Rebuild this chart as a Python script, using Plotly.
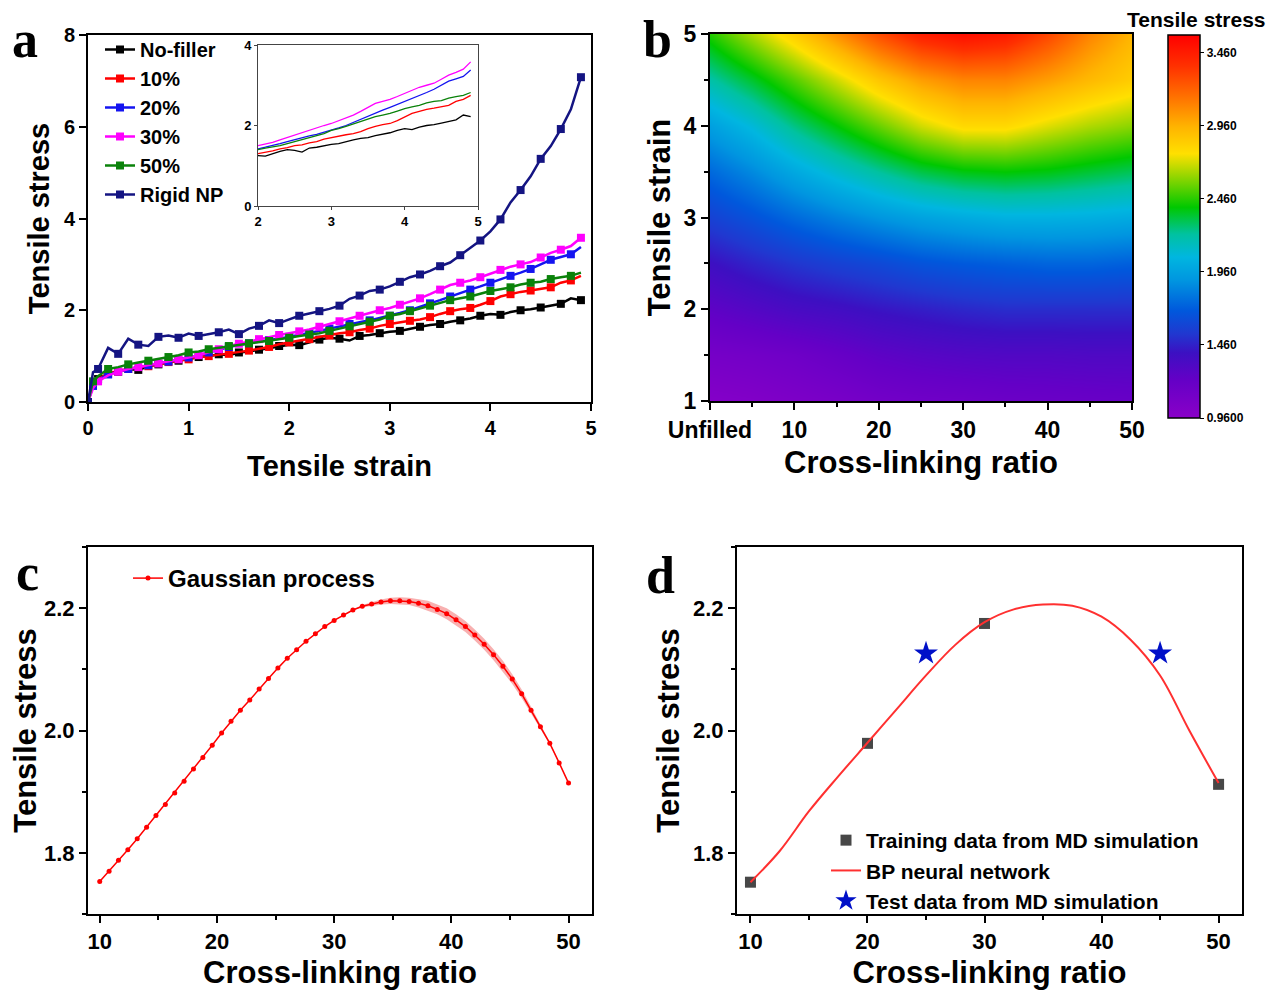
import plotly.graph_objects as go

# ---------------- data ----------------
# panel a: stress-strain curves
strain = [0, 0.05, 0.1, 0.2, 0.3, 0.4, 0.5, 0.6, 0.7, 0.8, 0.9, 1.0, 1.1, 1.2, 1.3, 1.4, 1.5,
          1.6, 1.7, 1.8, 1.9, 2.0, 2.1, 2.2, 2.3, 2.4, 2.5, 2.6, 2.7, 2.8, 2.9, 3.0, 3.1, 3.2,
          3.3, 3.4, 3.5, 3.6, 3.7, 3.8, 3.9, 4.0, 4.1, 4.2, 4.3, 4.4, 4.5, 4.6, 4.7, 4.8, 4.9]
stress_nofiller = [0, 0.38, 0.5, 0.62, 0.66, 0.72, 0.7, 0.78, 0.82, 0.86, 0.9, 0.94, 0.98, 1.0, 1.04, 1.02,
                   1.08, 1.1, 1.14, 1.18, 1.22, 1.25, 1.24, 1.3, 1.36, 1.4, 1.38, 1.34, 1.44, 1.46, 1.5,
                   1.53, 1.55, 1.6, 1.64, 1.68, 1.7, 1.75, 1.78, 1.82, 1.88, 1.92, 1.9, 1.96, 2.0, 2.02,
                   2.06, 2.1, 2.14, 2.26, 2.22]
stress_10 = [0, 0.4, 0.5, 0.62, 0.68, 0.72, 0.76, 0.78, 0.82, 0.87, 0.9, 0.93, 0.98, 1.0, 1.03, 1.05,
             1.08, 1.12, 1.16, 1.2, 1.26, 1.3, 1.33, 1.37, 1.42, 1.45, 1.5, 1.52, 1.57, 1.6, 1.66, 1.7,
             1.74, 1.77, 1.8, 1.85, 1.92, 1.98, 2.02, 2.05, 2.12, 2.2, 2.3, 2.35, 2.4, 2.43, 2.47, 2.5,
             2.6, 2.65, 2.75]
stress_20 = [0, 0.35, 0.48, 0.6, 0.66, 0.72, 0.76, 0.8, 0.84, 0.88, 0.93, 0.97, 1.02, 1.08, 1.14, 1.2,
             1.24, 1.28, 1.32, 1.35, 1.38, 1.42, 1.46, 1.5, 1.55, 1.6, 1.65, 1.7, 1.74, 1.78, 1.83, 1.88,
             1.94, 2.0, 2.08, 2.15, 2.22, 2.3, 2.38, 2.45, 2.52, 2.6, 2.68, 2.75, 2.82, 2.9, 3.0, 3.1,
             3.16, 3.22, 3.38]
stress_30 = [0, 0.3, 0.45, 0.58, 0.66, 0.72, 0.76, 0.8, 0.84, 0.88, 0.93, 0.97, 1.02, 1.08, 1.15, 1.22,
             1.27, 1.32, 1.37, 1.42, 1.46, 1.5, 1.54, 1.58, 1.64, 1.7, 1.76, 1.82, 1.88, 1.95, 2.0, 2.05,
             2.12, 2.18, 2.26, 2.35, 2.45, 2.55, 2.6, 2.65, 2.72, 2.8, 2.88, 2.95, 3.0, 3.05, 3.15, 3.25,
             3.32, 3.4, 3.58]
stress_50 = [0, 0.45, 0.56, 0.72, 0.76, 0.82, 0.86, 0.9, 0.94, 0.98, 1.02, 1.08, 1.1, 1.15, 1.18, 1.22,
             1.25, 1.28, 1.3, 1.33, 1.37, 1.4, 1.44, 1.47, 1.5, 1.55, 1.6, 1.65, 1.7, 1.75, 1.8, 1.88,
             1.92, 1.98, 2.04, 2.1, 2.16, 2.22, 2.26, 2.3, 2.36, 2.42, 2.46, 2.5, 2.56, 2.6, 2.62, 2.68,
             2.72, 2.75, 2.82]
stress_rigid = [0, 0.65, 0.72, 1.18, 1.05, 1.38, 1.25, 1.22, 1.42, 1.45, 1.4, 1.49, 1.44, 1.48, 1.52, 1.58,
                1.48, 1.6, 1.66, 1.78, 1.72, 1.8, 1.88, 1.93, 1.98, 2.03, 2.1, 2.25, 2.32, 2.42, 2.45, 2.52,
                2.62, 2.72, 2.78, 2.86, 2.96, 3.04, 3.2, 3.36, 3.52, 3.72, 3.98, 4.35, 4.62, 4.92, 5.3, 5.58,
                5.95, 6.38, 7.08]
series_names = ["No-filler", "10%", "20%", "30%", "50%", "Rigid NP"]
series_values = [stress_nofiller, stress_10, stress_20, stress_30, stress_50, stress_rigid]
series_colors = ["#000000", "#FF0000", "#1414F0", "#FF00FF", "#0A820A", "#141482"]

# panel b: stress map (cross-linking ratio x tensile strain)
cl_map = [0, 5, 10, 15, 20, 25, 30, 35, 40, 45, 50]
cl_map_labels = ["Unfilled", "10", "20", "30", "40", "50"]
strain_map = [1, 1.5, 2, 2.5, 3, 3.5, 4, 4.5, 5]
stress_map = [
    [1.00, 1.02, 1.05, 1.08, 1.12, 1.14, 1.15, 1.17, 1.18, 1.19, 1.20],
    [1.10, 1.12, 1.15, 1.20, 1.25, 1.28, 1.30, 1.31, 1.31, 1.32, 1.32],
    [1.25, 1.30, 1.35, 1.38, 1.42, 1.45, 1.48, 1.50, 1.50, 1.50, 1.50],
    [1.40, 1.47, 1.53, 1.58, 1.62, 1.67, 1.70, 1.72, 1.74, 1.74, 1.72],
    [1.58, 1.66, 1.75, 1.83, 1.90, 1.96, 2.00, 2.03, 2.03, 2.02, 2.00],
    [1.75, 1.86, 1.99, 2.11, 2.22, 2.32, 2.38, 2.40, 2.38, 2.34, 2.30],
    [1.95, 2.08, 2.25, 2.40, 2.55, 2.70, 2.80, 2.80, 2.72, 2.65, 2.60],
    [2.20, 2.35, 2.52, 2.70, 2.88, 3.02, 3.10, 3.10, 3.02, 2.93, 2.85],
    [2.45, 2.65, 2.85, 3.07, 3.28, 3.45, 3.52, 3.47, 3.30, 3.10, 2.95],
]
cbar_ticks = [0.96, 1.46, 1.96, 2.46, 2.96, 3.46]
cbar_labels = ["0.9600", "1.460", "1.960", "2.460", "2.960", "3.460"]

# panel c: Gaussian process prediction
cl_gp = [10, 10.8, 11.6, 12.4, 13.2, 14, 14.8, 15.6, 16.4, 17.2, 18, 18.8, 19.6, 20.4, 21.2, 22, 22.8,
         23.6, 24.4, 25.2, 26, 26.8, 27.6, 28.4, 29.2, 30, 30.8, 31.6, 32.4, 33.2, 34, 34.8, 35.6, 36.4,
         37.2, 38, 38.8, 39.6, 40.4, 41.2, 42, 42.8, 43.6, 44.4, 45.2, 46, 46.8, 47.6, 48.4, 49.2, 50]
gp_mean = [1.753, 1.770, 1.788, 1.805, 1.823, 1.842, 1.861, 1.879, 1.898, 1.917, 1.937, 1.956, 1.976,
           1.996, 2.015, 2.033, 2.050, 2.068, 2.085, 2.102, 2.118, 2.132, 2.146, 2.158, 2.170, 2.180,
           2.189, 2.197, 2.203, 2.207, 2.210, 2.212, 2.212, 2.211, 2.208, 2.204, 2.198, 2.191, 2.181,
           2.170, 2.156, 2.141, 2.124, 2.105, 2.084, 2.060, 2.033, 2.006, 1.979, 1.947, 1.914]
gp_std = [0, 0, 0, 0, 0, 0, 0, 0, 0, 0, 0, 0, 0, 0, 0, 0, 0, 0, 0, 0, 0, 0, 0, 0, 0, 0, 0, 0,
          0.002, 0.003, 0.004, 0.005, 0.006, 0.006, 0.007, 0.008, 0.008, 0.009, 0.009, 0.009, 0.009,
          0.009, 0.009, 0.009, 0.008, 0.007, 0.006, 0.004, 0.002, 0.001, 0]

# panel d: BP neural network
train_x = [10, 20, 30, 50]
train_y = [1.752, 1.979, 2.175, 1.912]
test_x = [25, 45]
test_y = [2.126, 2.126]
bp_x = [10, 12.5, 15, 17.5, 20, 22.5, 25, 27.5, 30, 32.5, 35, 37.5, 40, 42.5, 45, 47.5, 50]
bp_y = [1.752, 1.803, 1.868, 1.925, 1.980, 2.035, 2.090, 2.140, 2.177, 2.198, 2.206, 2.204, 2.186,
        2.148, 2.090, 2.000, 1.914]

# ---------------- layout helpers ----------------
# the page body has an 8px margin, so the figure is 16px smaller than the window
OFF = 8
W, H = 1280 - 2 * OFF, 998 - 2 * OFF
FONT = "Arial, Liberation Sans, sans-serif"
SERIF = "Times New Roman, Liberation Serif, serif"


def px(x):
    return (x - OFF) / W


def py(y):
    return 1 - (y - OFF) / H


def dx(a, b):
    return [px(a), px(b)]


def dy(top, bottom):
    return [py(bottom), py(top)]


def axis_style(size=20, **kw):
    d = dict(showgrid=False, zeroline=False, showline=True, linecolor="black", linewidth=2,
             mirror=True, ticks="outside", ticklen=7, tickwidth=2, tickcolor="black", automargin=False,
             tickfont=dict(family=FONT, size=size, color="black", weight="bold"))
    d.update(kw)
    return d


def minor(vals):
    return dict(tickvals=vals, ticks="outside", ticklen=4, tickwidth=2, tickcolor="black")


fig = go.Figure()

# panel a main
for name, vals, col in zip(series_names, series_values, series_colors):
    fig.add_trace(go.Scatter(x=strain, y=vals, name=name, mode="lines+markers",
                             line=dict(color=col, width=2.5),
                             marker=dict(symbol="square", size=8, color=col, maxdisplayed=26),
                             xaxis="x", yaxis="y", legend="legend"))
# inset
for name, vals, col in zip(series_names[:5], series_values[:5], series_colors[:5]):
    fig.add_trace(go.Scatter(x=strain, y=vals, mode="lines", showlegend=False,
                             line=dict(color=col, width=1.3), xaxis="x5", yaxis="y5"))

# panel b heatmap
colorscale = [
    [0.00, "#8A00C8"], [0.10, "#6400C6"], [0.17, "#3C10C2"], [0.22, "#2038D0"],
    [0.28, "#0058DC"], [0.36, "#0096E0"], [0.42, "#00B6E0"], [0.48, "#00C2A0"],
    [0.55, "#00C800"], [0.62, "#80D400"], [0.69, "#FFE000"], [0.76, "#FFB400"],
    [0.84, "#FF7000"], [0.92, "#FF3000"], [1.00, "#FF0000"],
]
fig.add_trace(go.Heatmap(x=cl_map, y=strain_map, z=stress_map, zsmooth="best",
                         colorscale=colorscale, zmin=0.96, zmax=3.583,
                         xaxis="x2", yaxis="y2",
                         colorbar=dict(x=px(1168), xanchor="left", xpad=0, ypad=0,
                                       y=py(418), yanchor="bottom",
                                       lenmode="pixels", len=383, thickness=32,
                                       outlinewidth=1.5, outlinecolor="black",
                                       tickvals=cbar_ticks, ticktext=cbar_labels,
                                       ticks="outside", ticklen=4, tickcolor="black",
                                       tickfont=dict(family=FONT, size=12, color="black",
                                                     weight="bold"))))

# panel c
gp_upper = [m + s for m, s in zip(gp_mean, gp_std)]
gp_lower = [m - s for m, s in zip(gp_mean, gp_std)]
fig.add_trace(go.Scatter(x=cl_gp, y=gp_upper, mode="lines", line=dict(width=0, color="rgba(0,0,0,0)"),
                         showlegend=False, hoverinfo="skip", xaxis="x3", yaxis="y3"))
fig.add_trace(go.Scatter(x=cl_gp, y=gp_lower, mode="lines", line=dict(width=0, color="rgba(0,0,0,0)"),
                         fill="tonexty", fillcolor="rgba(240,80,80,0.45)",
                         showlegend=False, hoverinfo="skip", xaxis="x3", yaxis="y3"))
fig.add_trace(go.Scatter(x=cl_gp, y=gp_mean, name="Gaussian process", mode="lines+markers",
                         line=dict(color="#FF0000", width=1.5),
                         marker=dict(symbol="circle", size=5, color="#FF0000"),
                         xaxis="x3", yaxis="y3", legend="legend2"))

# panel d
fig.add_trace(go.Scatter(x=train_x, y=train_y, name="Training data from MD simulation", mode="markers",
                         marker=dict(symbol="square", size=11, color="#474747"),
                         xaxis="x4", yaxis="y4", legend="legend3"))
fig.add_trace(go.Scatter(x=bp_x, y=bp_y, name="BP neural network", mode="lines",
                         line=dict(color="#FF3030", width=2, shape="spline", smoothing=1.0),
                         xaxis="x4", yaxis="y4", legend="legend3"))
fig.add_trace(go.Scatter(x=test_x, y=test_y, name="Test data from MD simulation", mode="markers",
                         marker=dict(symbol="star", size=18, color="#0010C8"),
                         xaxis="x4", yaxis="y4", legend="legend3"))

title_font = dict(family=FONT, size=29, color="black", weight="bold")
title_font32 = dict(family=FONT, size=31, color="black", weight="bold")

layout = dict(
    template="none",
    width=W, height=H, margin=dict(l=0, r=0, t=0, b=0, autoexpand=False),
    paper_bgcolor="white", plot_bgcolor="white",
    font=dict(family=FONT, color="black", weight="bold"),
    # panel a
    xaxis=axis_style(20, domain=dx(88, 591), range=[0, 5], tickvals=[0, 1, 2, 3, 4, 5],
                     anchor="y", title=dict(text="Tensile strain", font=title_font, standoff=18)),
    yaxis=axis_style(20, domain=dy(35, 402), range=[0, 8], tickvals=[0, 2, 4, 6, 8],
                     anchor="x", title=dict(text="Tensile stress", font=title_font, standoff=6)),
    # inset
    xaxis5=axis_style(13, domain=dx(258, 478), range=[2, 5], tickvals=[2, 3, 4, 5], anchor="y5",
                      linewidth=1, linecolor="#444", ticklen=3, tickwidth=1, tickcolor="#444"),
    yaxis5=axis_style(13, domain=dy(45, 206), range=[0, 4], tickvals=[0, 2, 4], anchor="x5",
                      linewidth=1, linecolor="#444", ticklen=3, tickwidth=1, tickcolor="#444"),
    # panel b
    xaxis2=axis_style(23, domain=dx(710, 1132), range=[0, 50], tickvals=[0, 10, 20, 30, 40, 50],
                      ticktext=cl_map_labels, anchor="y2", minor=minor([5, 15, 25, 35, 45]),
                      title=dict(text="Cross-linking ratio", font=title_font32, standoff=10)),
    yaxis2=axis_style(23, domain=dy(34, 401), range=[1, 5], tickvals=[1, 2, 3, 4, 5], anchor="x2",
                      minor=minor([1.5, 2.5, 3.5, 4.5]),
                      title=dict(text="Tensile strain", font=title_font32, standoff=4)),
    # panel c
    xaxis3=axis_style(22, domain=dx(88, 592), range=[9, 52], tickvals=[10, 20, 30, 40, 50], anchor="y3",
                      minor=minor([15, 25, 35, 45]),
                      title=dict(text="Cross-linking ratio", font=title_font32, standoff=14)),
    yaxis3=axis_style(22, domain=dy(547, 914), range=[1.7, 2.3], tickvals=[1.8, 2.0, 2.2],
                      ticktext=["1.8", "2.0", "2.2"], anchor="x3", minor=minor([1.7, 1.9, 2.1, 2.3]),
                      title=dict(text="Tensile stress", font=title_font32, standoff=9)),
    # panel d
    xaxis4=axis_style(22, domain=dx(737, 1242), range=[8.85, 52], tickvals=[10, 20, 30, 40, 50], anchor="y4",
                      minor=minor([15, 25, 35, 45]),
                      title=dict(text="Cross-linking ratio", font=title_font32, standoff=14)),
    yaxis4=axis_style(22, domain=dy(547, 914), range=[1.7, 2.3], tickvals=[1.8, 2.0, 2.2],
                      ticktext=["1.8", "2.0", "2.2"], anchor="x4", minor=minor([1.7, 1.9, 2.1, 2.3]),
                      title=dict(text="Tensile stress", font=title_font32, standoff=4)),
    legend=dict(x=px(100), y=py(30), xanchor="left", yanchor="top", bgcolor="rgba(0,0,0,0)",
                font=dict(family=FONT, size=20, color="black", weight="bold"),
                tracegroupgap=0, itemwidth=30, traceorder="normal"),
    legend2=dict(x=px(128), y=py(556), xanchor="left", yanchor="top", bgcolor="rgba(0,0,0,0)",
                 font=dict(family=FONT, size=24, color="black", weight="bold"), traceorder="normal"),
    legend3=dict(x=px(826), y=py(820), xanchor="left", yanchor="top", bgcolor="rgba(0,0,0,0)",
                 font=dict(family=FONT, size=21, color="black", weight="bold"), tracegroupgap=0,
                 traceorder="normal"),
    showlegend=True,
)
fig.update_layout(**layout)

# panel letters and colorbar title
letters = [("a", 25, 40), ("b", 657, 40), ("c", 27, 572), ("d", 660, 575)]
for t, lx, ly in letters:
    fig.add_annotation(text=t, x=px(lx), y=py(ly), xref="paper", yref="paper", showarrow=False,
                       xanchor="center", yanchor="middle",
                       font=dict(family=SERIF, size=52, color="black", weight="bold"))
fig.add_annotation(text="Tensile stress", x=px(1196), y=py(20), xref="paper", yref="paper",
                   showarrow=False, xanchor="center", yanchor="middle",
                   font=dict(family=FONT, size=21, color="black", weight="bold"))

fig.write_html("out.html")
